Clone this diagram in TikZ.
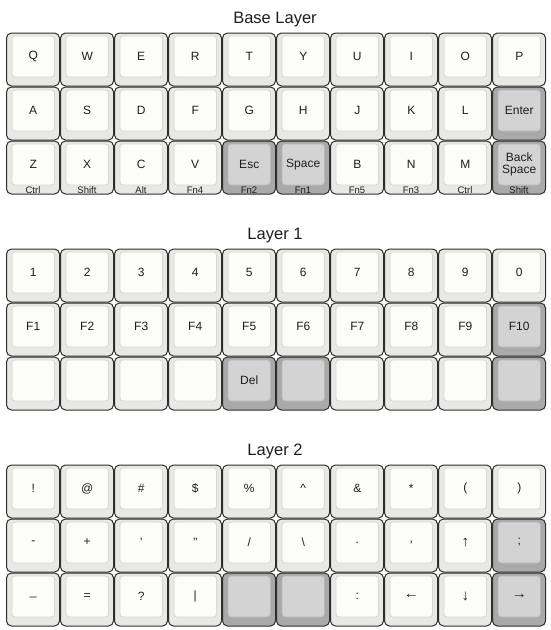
\documentclass[tikz,border=0pt]{standalone}
\usepackage{fontspec}
\setmainfont{Liberation Sans}
\definecolor{kborder}{HTML}{2E2E2E}
\definecolor{ltout}{HTML}{E8E8E4}
\definecolor{ltin}{HTML}{FDFDF7}
\definecolor{ltinb}{HTML}{D8D8D2}
\definecolor{dkout}{HTML}{A9A9A9}
\definecolor{dkin}{HTML}{D3D3D3}
\definecolor{dkinb}{HTML}{B8B8B8}
\definecolor{ktext}{HTML}{1E1E1E}
\newcommand{\kcap}[6]{%
  \node[capout #4] (#1) at ({6+54*#2+27},{#3+27}) {};
  \node[capin #4] (#1in) at ({6+54*#2+27.25},{#3+24}) {#5};
  \node[sublab] (#1sub) at ({6+54*#2+27},{#3+52.6}) {#6};
}
\newcommand{\arr}[1]{{\fontsize{15}{15}\selectfont #1}}
\begin{document}
\begin{tikzpicture}[x=1pt,y=-1pt,
  capout lt/.style={draw=kborder,fill=ltout,line width=1pt,rounded corners=5pt,minimum width=53pt,minimum height=53pt,inner sep=0pt},
  capout dk/.style={draw=kborder,fill=dkout,line width=1pt,rounded corners=5pt,minimum width=53pt,minimum height=53pt,inner sep=0pt},
  capin lt/.style={draw=ltinb,fill=ltin,line width=0.8pt,rounded corners=3pt,minimum width=42.5pt,minimum height=41pt,inner sep=0pt,align=center,text=ktext,font=\fontsize{12}{12}\selectfont},
  capin dk/.style={draw=dkinb,fill=dkin,line width=0.8pt,rounded corners=3pt,minimum width=42.5pt,minimum height=41pt,inner sep=0pt,align=center,text=ktext,font=\fontsize{12}{12}\selectfont},
  sublab/.style={anchor=base,inner sep=0pt,text=ktext,font=\fontsize{9.5}{10}\selectfont},
  title/.style={anchor=base,inner sep=0pt,text=ktext,font=\fontsize{16.5}{18}\selectfont}]
\useasboundingbox (0,0) rectangle (550,630);
% ---------- Base Layer ----------
\node[title] (t0) at (275,23) {Base Layer};
\kcap{a1}{0}{32.5}{lt}{Q}{}
\kcap{a2}{1}{32.5}{lt}{W}{}
\kcap{a3}{2}{32.5}{lt}{E}{}
\kcap{a4}{3}{32.5}{lt}{R}{}
\kcap{a5}{4}{32.5}{lt}{T}{}
\kcap{a6}{5}{32.5}{lt}{Y}{}
\kcap{a7}{6}{32.5}{lt}{U}{}
\kcap{a8}{7}{32.5}{lt}{I}{}
\kcap{a9}{8}{32.5}{lt}{O}{}
\kcap{a10}{9}{32.5}{lt}{P}{}
\kcap{b1}{0}{86.5}{lt}{A}{}
\kcap{b2}{1}{86.5}{lt}{S}{}
\kcap{b3}{2}{86.5}{lt}{D}{}
\kcap{b4}{3}{86.5}{lt}{F}{}
\kcap{b5}{4}{86.5}{lt}{G}{}
\kcap{b6}{5}{86.5}{lt}{H}{}
\kcap{b7}{6}{86.5}{lt}{J}{}
\kcap{b8}{7}{86.5}{lt}{K}{}
\kcap{b9}{8}{86.5}{lt}{L}{}
\kcap{b10}{9}{86.5}{dk}{Enter}{}
\kcap{c1}{0}{140.5}{lt}{Z}{Ctrl}
\kcap{c2}{1}{140.5}{lt}{X}{Shift}
\kcap{c3}{2}{140.5}{lt}{C}{Alt}
\kcap{c4}{3}{140.5}{lt}{V}{Fn4}
\kcap{c5}{4}{140.5}{dk}{Esc}{Fn2}
\kcap{c6}{5}{140.5}{dk}{Space}{Fn1}
\kcap{c7}{6}{140.5}{lt}{B}{Fn5}
\kcap{c8}{7}{140.5}{lt}{N}{Fn3}
\kcap{c9}{8}{140.5}{lt}{M}{Ctrl}
\kcap{c10}{9}{140.5}{dk}{Back\\Space}{Shift}
% ---------- Layer 1 ----------
\node[title] (t1) at (275,239) {Layer 1};
\kcap{d1}{0}{248.5}{lt}{1}{}
\kcap{d2}{1}{248.5}{lt}{2}{}
\kcap{d3}{2}{248.5}{lt}{3}{}
\kcap{d4}{3}{248.5}{lt}{4}{}
\kcap{d5}{4}{248.5}{lt}{5}{}
\kcap{d6}{5}{248.5}{lt}{6}{}
\kcap{d7}{6}{248.5}{lt}{7}{}
\kcap{d8}{7}{248.5}{lt}{8}{}
\kcap{d9}{8}{248.5}{lt}{9}{}
\kcap{d10}{9}{248.5}{lt}{0}{}
\kcap{e1}{0}{302.5}{lt}{F1}{}
\kcap{e2}{1}{302.5}{lt}{F2}{}
\kcap{e3}{2}{302.5}{lt}{F3}{}
\kcap{e4}{3}{302.5}{lt}{F4}{}
\kcap{e5}{4}{302.5}{lt}{F5}{}
\kcap{e6}{5}{302.5}{lt}{F6}{}
\kcap{e7}{6}{302.5}{lt}{F7}{}
\kcap{e8}{7}{302.5}{lt}{F8}{}
\kcap{e9}{8}{302.5}{lt}{F9}{}
\kcap{e10}{9}{302.5}{dk}{F10}{}
\kcap{f1}{0}{356.5}{lt}{}{}
\kcap{f2}{1}{356.5}{lt}{}{}
\kcap{f3}{2}{356.5}{lt}{}{}
\kcap{f4}{3}{356.5}{lt}{}{}
\kcap{f5}{4}{356.5}{dk}{Del}{}
\kcap{f6}{5}{356.5}{dk}{}{}
\kcap{f7}{6}{356.5}{lt}{}{}
\kcap{f8}{7}{356.5}{lt}{}{}
\kcap{f9}{8}{356.5}{lt}{}{}
\kcap{f10}{9}{356.5}{dk}{}{}
% ---------- Layer 2 ----------
\node[title] (t2) at (275,455) {Layer 2};
\kcap{g1}{0}{464.5}{lt}{!}{}
\kcap{g2}{1}{464.5}{lt}{@}{}
\kcap{g3}{2}{464.5}{lt}{\#}{}
\kcap{g4}{3}{464.5}{lt}{\$}{}
\kcap{g5}{4}{464.5}{lt}{\%}{}
\kcap{g6}{5}{464.5}{lt}{\textasciicircum}{}
\kcap{g7}{6}{464.5}{lt}{\&}{}
\kcap{g8}{7}{464.5}{lt}{*}{}
\kcap{g9}{8}{464.5}{lt}{(}{}
\kcap{g10}{9}{464.5}{lt}{)}{}
\kcap{h1}{0}{518.5}{lt}{-}{}
\kcap{h2}{1}{518.5}{lt}{+}{}
\kcap{h3}{2}{518.5}{lt}{\symbol{39}}{}
\kcap{h4}{3}{518.5}{lt}{\symbol{34}}{}
\kcap{h5}{4}{518.5}{lt}{/}{}
\kcap{h6}{5}{518.5}{lt}{\textbackslash}{}
\kcap{h7}{6}{518.5}{lt}{.}{}
\kcap{h8}{7}{518.5}{lt}{,}{}
\kcap{h9}{8}{518.5}{lt}{\arr{↑}}{}
\kcap{h10}{9}{518.5}{dk}{;}{}
\kcap{i1}{0}{572.5}{lt}{\_}{}
\kcap{i2}{1}{572.5}{lt}{=}{}
\kcap{i3}{2}{572.5}{lt}{?}{}
\kcap{i4}{3}{572.5}{lt}{|}{}
\kcap{i5}{4}{572.5}{dk}{}{}
\kcap{i6}{5}{572.5}{dk}{}{}
\kcap{i7}{6}{572.5}{lt}{:}{}
\kcap{i8}{7}{572.5}{lt}{\arr{←}}{}
\kcap{i9}{8}{572.5}{lt}{\arr{↓}}{}
\kcap{i10}{9}{572.5}{dk}{\arr{→}}{}
\end{tikzpicture}
\end{document}
